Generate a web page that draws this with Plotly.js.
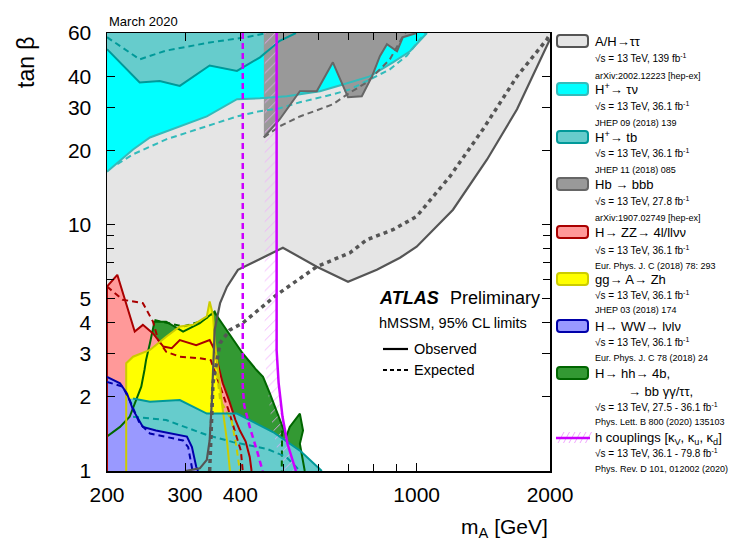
<!DOCTYPE html>
<html><head><meta charset="utf-8">
<script src="https://cdn.plot.ly/plotly-3.0.1.min.js"></script>
<style>body{margin:0;background:#fff}#chart{width:733px;height:556px}</style>
</head><body><div id="chart"></div>
<script>
// ---------- data (mA [GeV], tan beta) ----------
const XMIN = 200, XMAX = 2000, YMIN = 1, YMAX = 60;

const ahObsX = [300, 324, 336, 341, 345, 347, 350, 360, 373, 395, 499, 595, 700, 813, 917, 1000, 1208, 1442, 1685, 2000];
const ahObsY = [1, 1.025, 1.11, 1.33, 1.94, 2.57, 3.74, 4.81, 5.59, 6.56, 8.06, 6.75, 5.86, 6.56, 7.34, 8.14, 11.5, 18.4, 29.4, 56.6];
const ahExpX = [341, 347, 360, 379, 405, 483, 595, 707, 772, 884, 1000, 1189, 1412, 1685, 1969, 2000];
const ahExpY = [1, 2.28, 3.31, 3.74, 3.99, 5.19, 6.75, 7.69, 8.69, 9.54, 10.8, 15.7, 24.4, 40, 56.6, 59.3];

const tnObsX = [200, 229, 250, 292, 336, 393, 443, 509, 545, 605, 682, 784, 884, 966, 1055];
const tnObsY = [16.4, 20.2, 22.6, 25.1, 27.5, 32.3, 32.6, 33.2, 33.8, 34.8, 37.1, 40, 45.6, 50.6, 60];
const tnExpX = [211, 229, 272, 335, 393, 443, 491, 545, 647, 707, 772, 870, 950, 1033, 1050];
const tnExpY = [17.6, 19.3, 22.2, 25.1, 27.5, 28.9, 29.7, 31.4, 33.8, 35.4, 38.3, 42.7, 48.5, 58.5, 60];

const tbHiObsX = [200, 237, 263, 292, 341, 393, 443, 491, 534];
const tbHiObsY = [51.6, 37.8, 38.3, 36.6, 44.3, 42.1, 47.8, 55.8, 60];
const tbHiExpX = [200, 237, 272, 341, 413, 459];
const tbHiExpY = [57.7, 46.9, 50.9, 54.9, 57.7, 60];

const tbLoObsX = [229, 250, 292, 336, 393, 474, 545, 611];
const tbLoObsY = [1.97, 1.91, 1.94, 1.71, 1.71, 1.44, 1.21, 1];
const tbLoExpX = [229, 272, 336, 385, 459, 508, 534, 545];
const tbLoExpY = [1.66, 1.61, 1.40, 1.31, 1.23, 1.14, 1.04, 1];

const hbObsX = [452, 452, 491, 545, 595, 647, 700, 752, 793, 826, 857, 903, 931, 1000];
const hbObsY = [60, 22.6, 26.8, 34.8, 34.8, 45.6, 32.9, 33.2, 40, 48.3, 54.0, 50.6, 57.7, 60];
const hbExpX = [452, 491, 545, 647, 707, 772, 870, 931, 945];
const hbExpY = [22.6, 25.1, 27.5, 30.8, 34.4, 37.8, 46.9, 58.2, 60];

const zzObsX = [200, 200, 211, 231, 241, 254, 268, 280, 292, 318, 341, 350, 354, 365, 377, 390, 399, 411, 420, 424];
const zzObsY = [1, 5.61, 6.26, 3.68, 3.92, 3.62, 3.20, 3.15, 3.40, 3.24, 3.40, 3.10, 2.82, 2.27, 1.94, 1.61, 1.46, 1.32, 1.14, 1];
const zzExpX = [200, 217, 241, 254, 261, 272, 292, 324, 343, 354, 376, 392, 401, 405];
const zzExpY = [5.61, 4.96, 4.80, 4.04, 3.40, 3.05, 2.91, 2.87, 2.82, 2.41, 1.77, 1.38, 1.21, 1];

const zhObsX = [221, 221, 229, 250, 272, 292, 313, 336, 341, 347, 350, 356, 365, 373, 379];
const zhObsY = [1, 2.74, 2.91, 3.10, 3.51, 3.86, 3.92, 4.24, 4.88, 4.30, 3.40, 2.57, 1.77, 1.33, 1];
const zhExpX = [350, 360, 382, 392, 399];
const zhExpY = [3.0, 1.94, 1.61, 1.25, 1];

const wwObsX = [200, 214, 222, 229, 241, 258, 303, 311, 318, 321];
const wwObsY = [2.41, 2.27, 2.06, 1.77, 1.51, 1.46, 1.38, 1.25, 1.04, 1];
const wwExpX = [200, 217, 225, 237, 250, 297, 305, 311, 312];
const wwExpY = [2.30, 2.20, 1.94, 1.56, 1.42, 1.33, 1.25, 1.04, 1];

const hhObsX = [200, 214, 225, 233, 239, 243, 245, 250, 256, 272, 297, 324, 350, 353, 379, 405, 435, 450, 466, 491, 508, 517, 545, 554, 545, 559];
const hhObsY = [1.38, 1.51, 1.66, 1.94, 2.20, 2.57, 2.82, 3.30, 4.04, 4.04, 3.68, 3.98, 4.44, 4.30, 3.55, 3.00, 2.57, 2.41, 2.07, 1.61, 1.38, 1.51, 1.71, 1.46, 1.29, 1];
const hhExpX = [256, 297, 324, 350, null, 497, 497, 496];
const hhExpY = [4.10, 3.86, 4.04, 4.37, null, 1.46, 1.2, 1];

const cplObsX = [483, 483, 488, 498, 511, 534];
const cplObsY = [60, 3.09, 2.28, 1.66, 1.29, 1];
const cplBandX = [454, 454, 459, 469, 481, 499];
const cplBandY = [60, 3.09, 2.28, 1.66, 1.29, 1];
const cplExpX = [405, 405, 408, 420, 436, 449];
const cplExpY = [60, 2.2, 1.85, 1.51, 1.21, 1];

const xTickVals = [200, 300, 400, 1000, 2000];
const xTickText = ['200', '300', '400', '1000', '2000'];
const xMinorVals = [500, 600, 700, 800, 900];
const yTickVals = [1, 2, 3, 4, 5, 10, 20, 30, 40, 60];
const yTickText = ['1', '2', '3', '4', '5', '10', '20', '30', '40', '60'];
const yMinorVals = [6, 7, 8, 9];

const legTitles = ['A/H→ττ', 'H<sup>+</sup>→ τν', 'H<sup>+</sup>→ tb', 'Hb → bbb', 'H→ ZZ→ 4l/llνν', 'gg→ A→ Zh', 'H→ WW→ lνlν', 'H→ hh→ 4b,', 'h couplings [κ<sub>V</sub>, κ<sub>u</sub>, κ<sub>d</sub>]'];
const legSubs = ['√s = 13 TeV, 139 fb<sup>-1</sup>', '√s = 13 TeV, 36.1 fb<sup>-1</sup>', '√s = 13 TeV, 36.1 fb<sup>-1</sup>', '√s = 13 TeV, 27.8 fb<sup>-1</sup>', '√s = 13 TeV, 36.1 fb<sup>-1</sup>', '√s = 13 TeV, 36.1 fb<sup>-1</sup>', '√s = 13 TeV, 36.1 fb<sup>-1</sup>', '√s = 13 TeV, 27.5 - 36.1 fb<sup>-1</sup>', '√s = 13 TeV, 36.1 - 79.8 fb<sup>-1</sup>'];
const legRefs = ['arXiv:2002.12223 [hep-ex]', 'JHEP 09 (2018) 139', 'JHEP 11 (2018) 085', 'arXiv:1907.02749 [hep-ex]', 'Eur. Phys. J. C (2018) 78: 293', 'JHEP 03 (2018) 174', 'Eur. Phys. J. C 78 (2018) 24', 'Phys. Lett. B 800 (2020) 135103', 'Phys. Rev. D 101, 012002 (2020)'];
const legFill = ['#e5e5e5', '#00ffff', '#66cccc', '#999999', '#ff9999', '#ffff00', '#9999ff', '#339933'];
const legLine = ['#555555', '#33bbbb', '#009999', '#666666', '#aa0000', '#cccc00', '#0000aa', '#006600'];

// ---------- layout helpers (pixel -> paper) ----------
const L = 107, R = 550, T = 33, B = 471;
const PX = p => (p - L) / (R - L);
const PY = p => (B - p) / (B - T);
const FONT = 'Liberation Sans, Arial, Helvetica, sans-serif';

function fillTr(x, y, color) {
  return {type: 'scatter', mode: 'lines', x: x, y: y, fill: 'toself', fillcolor: color,
          line: {width: 0}, hoverinfo: 'skip', showlegend: false};
}
function lineTr(x, y, color, width, dash) {
  return {type: 'scatter', mode: 'lines', x: x, y: y, line: {color: color, width: width, dash: dash || 'solid'},
          connectgaps: false, hoverinfo: 'skip', showlegend: false};
}

const C = {ah: '#555555', tn: '#33bbbb', tb: '#009999', hb: '#666666', zz: '#aa0000', zh: '#cccc00', ww: '#0000aa', hh: '#006600', cpl: '#cc00ff'};

const traces = [
  fillTr([XMIN].concat(ahObsX, [XMAX, XMIN]), [YMIN].concat(ahObsY, [YMAX, YMAX]), '#e5e5e5'),
  fillTr(tnObsX.concat([XMIN]), tnObsY.concat([YMAX]), '#00ffff'),
  fillTr(tbHiObsX.concat([XMIN]), tbHiObsY.concat([YMAX]), '#66cccc'),
  fillTr(hbObsX, hbObsY, '#999999'),
  fillTr([XMIN].concat(hhObsX), [YMIN].concat(hhObsY), '#339933'),
  fillTr(zzObsX, zzObsY, '#ff9999'),
  fillTr(zhObsX, zhObsY, '#ffff00'),
  fillTr([XMIN, XMIN].concat(tbLoObsX), [YMIN, 1.95].concat(tbLoObsY), '#66cccc'),
  fillTr([XMIN].concat(wwObsX), [YMIN].concat(wwObsY), '#9999ff'),
  {type: 'scatter', mode: 'lines', x: cplObsX.concat(cplBandX.slice().reverse()), y: cplObsY.concat(cplBandY.slice().reverse()),
   fill: 'toself', fillcolor: 'rgba(0,0,0,0)', line: {width: 0},
   fillpattern: {shape: '/', fgcolor: '#f2a6ff', bgcolor: 'rgba(0,0,0,0)', size: 7, solidity: 0.12},
   hoverinfo: 'skip', showlegend: false},
  // lines
  lineTr(tnObsX, tnObsY, C.tn, 2), lineTr(tnExpX, tnExpY, C.tn, 2, '6px,4px'),
  lineTr(tbHiObsX, tbHiObsY, C.tb, 2), lineTr(tbHiExpX, tbHiExpY, C.tb, 2, '6px,4px'),
  lineTr(hbObsX.slice(1), hbObsY.slice(1), C.hb, 2), lineTr(hbExpX, hbExpY, C.hb, 2, '6px,4px'),
  lineTr(hhObsX, hhObsY, C.hh, 2), lineTr(hhExpX, hhExpY, C.hh, 2, '6px,4px'),
  lineTr(zzObsX, zzObsY, C.zz, 2), lineTr(zzExpX, zzExpY, C.zz, 2, '6px,4px'),
  lineTr(zhObsX, zhObsY, C.zh, 2), lineTr(zhExpX, zhExpY, C.zh, 2, '6px,4px'),
  lineTr(tbLoObsX, tbLoObsY, C.tb, 2), lineTr(tbLoExpX, tbLoExpY, C.tb, 2, '6px,4px'),
  lineTr(wwObsX, wwObsY, C.ww, 2), lineTr(wwExpX, wwExpY, C.ww, 2, '6px,4px'),
  lineTr(ahObsX, ahObsY, C.ah, 2.2), lineTr(ahExpX, ahExpY, C.ah, 3.5, '4px,4px'),
  lineTr(cplObsX, cplObsY, C.cpl, 2.5), lineTr(cplExpX, cplExpY, C.cpl, 2.5, '6px,4px')
];

// ---------- annotations & legend ----------
const ann = [];
const shapes = [];
function txt(text, px, py, size, opts) {
  ann.push(Object.assign({xref: 'paper', yref: 'paper', x: PX(px), y: PY(py), text: text, showarrow: false,
    xanchor: 'left', yanchor: 'middle', font: {family: FONT, size: size, color: '#000'}}, opts || {}));
}
function rrect(x0, y0, x1, y1, r) {
  const a = PX(x0), b = PX(x1), top = PY(y0), bot = PY(y1);
  const rx = r / (R - L), ry = r / (B - T);
  return `M ${a + rx} ${top} L ${b - rx} ${top} Q ${b} ${top} ${b} ${top - ry} L ${b} ${bot + ry} Q ${b} ${bot} ${b - rx} ${bot} ` +
         `L ${a + rx} ${bot} Q ${a} ${bot} ${a} ${bot + ry} L ${a} ${top - ry} Q ${a} ${top} ${a + rx} ${top} Z`;
}
function pline(x0, y0, x1, y1, color, width, dash) {
  shapes.push({type: 'line', xref: 'paper', yref: 'paper', x0: PX(x0), y0: PY(y0), x1: PX(x1), y1: PY(y1),
               line: {color: color, width: width, dash: dash || 'solid'}});
}

const titleY = [41, 89, 137, 184, 232, 279, 326, 373, 438];
const subY = [58, 106, 153, 201, 250, 295, 342, 407, 453];
const refY = [76, 123, 170, 218, 266, 310, 358, 422, 469];
for (let i = 0; i < legTitles.length; i++) {
  txt(legTitles[i], 593, titleY[i], 13);
  txt(legSubs[i], 593, subY[i], 10);
  txt(legRefs[i], 593, refY[i], 9);
  if (i < legFill.length) {
    shapes.push({type: 'path', xref: 'paper', yref: 'paper', path: rrect(557, titleY[i] - 6, 588, titleY[i] + 6, 3),
                 fillcolor: legFill[i], line: {color: legLine[i], width: 2}});
  }
}
txt('→ bb γγ/ττ,', 626, 391, 13);
// h couplings legend symbol
for (let k = 0; k < 6; k++) {
  pline(558 + k * 5.5, 443, 564 + k * 5.5, 432, '#f2a6ff', 1);
}
pline(556, 438, 590, 438, C.cpl, 2.5);

txt('March 2020', 107, 22, 13);
txt('<b><i>ATLAS</i></b>', 377, 298, 18);
txt('Preliminary', 448, 298, 18);
txt('hMSSM, 95% CL limits', 377, 323, 14.5);
pline(383, 349, 408, 349, '#000', 2.2);
txt('Observed', 412, 349, 14.5);
pline(383, 370, 408, 370, '#000', 2.2, '4px,3px');
txt('Expected', 412, 370, 14.5);
txt('tan β', 26, 62, 23, {xanchor: 'center', textangle: -90});
txt('m<sub>A</sub> [GeV]', 550, 528, 21, {xanchor: 'right'});

const axisCommon = {type: 'log', showgrid: false, zeroline: false, showline: true, linecolor: '#000', linewidth: 1.5,
  mirror: 'ticks', ticks: 'inside', ticklen: 8, tickwidth: 1, tickcolor: '#000',
  tickfont: {family: FONT, size: 21, color: '#000'}, tickmode: 'array'};

const layout = {
  width: 733, height: 556, margin: {l: L, r: 733 - R, t: T, b: 556 - B, pad: 0},
  paper_bgcolor: '#fff', plot_bgcolor: '#fff', showlegend: false,
  xaxis: Object.assign({}, axisCommon, {range: [Math.log10(XMIN), Math.log10(XMAX)], tickvals: xTickVals, ticktext: xTickText, ticklabelstandoff: 4,
    minor: {tickmode: 'array', tickvals: xMinorVals, ticks: 'inside', ticklen: 7, tickcolor: '#000', tickwidth: 1, showgrid: false}}),
  yaxis: Object.assign({}, axisCommon, {range: [Math.log10(YMIN), Math.log10(YMAX)], tickvals: yTickVals, ticktext: yTickText, ticklabelstandoff: 10,
    minor: {tickmode: 'array', tickvals: yMinorVals, ticks: 'inside', ticklen: 7, tickcolor: '#000', tickwidth: 1, showgrid: false}}),
  annotations: ann, shapes: shapes
};

Plotly.newPlot('chart', traces, layout, {staticPlot: true, displayModeBar: false});
</script></body></html>
